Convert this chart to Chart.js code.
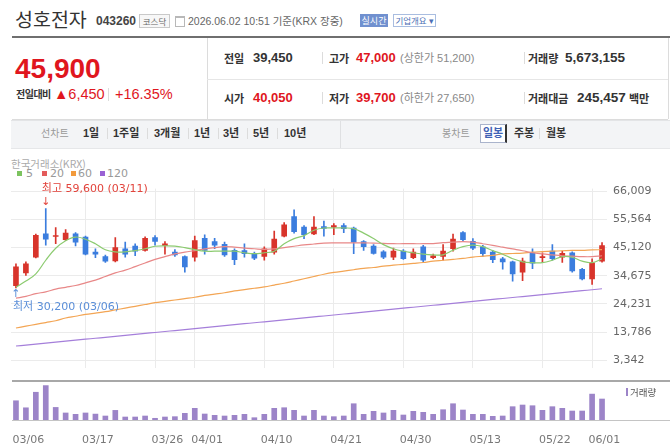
<!DOCTYPE html>
<html><head><meta charset="utf-8">
<script src="https://cdn.jsdelivr.net/npm/chart.js@4"></script>
<style>
body{margin:0;width:670px;height:447px;background:#fff;position:relative;overflow:hidden;font-family:"Liberation Sans","Noto Sans CJK KR",sans-serif;}
.a{position:absolute;white-space:nowrap;}
.k{font-family:"Noto Sans CJK KR",sans-serif;}
.lb{font:bold 11px/14px "Noto Sans CJK KR";color:#333;}
.nb{font:bold 13px/16px "Liberation Sans";color:#333;}
.red{color:#e0161e;}
.gr{font:11px/14px "Liberation Sans","Noto Sans CJK KR";color:#888;}
.sep{position:absolute;width:1px;background:#dcdcdc;}
.tb{font:bold 11px/14px "Liberation Sans","Noto Sans CJK KR";color:#333;}
.tg{font:10px/14px "Noto Sans CJK KR";color:#999;}
canvas{position:absolute;left:0;}
</style></head><body>
<!-- header -->
<div class="a k" style="left:15px;top:7px;font-size:19.5px;line-height:24px;color:#333">성호전자</div>
<div class="a" style="left:96px;top:14px;font:bold 12px/14px 'Liberation Sans';color:#444">043260</div>
<div class="a k" style="left:139px;top:14px;width:29px;height:12px;border:1px solid #c9c9c9;background:#f7f7f7;font-size:8.5px;line-height:12px;text-align:center;color:#666">코스닥</div>
<div class="a" style="left:175px;top:16px;width:8px;height:8px;border:1px solid #b8b8b8;border-top:2px solid #b8b8b8"></div>
<div class="a" style="left:188px;top:14px;font:10.5px/14px 'Liberation Sans','Noto Sans CJK KR';color:#666">2026.06.02 10:51 기준(KRX 장중)</div>
<div class="a k" style="left:360px;top:14px;width:28px;height:13px;background:#7090cf;color:#fff;font-size:9px;line-height:13px;text-align:center">실시간</div>
<div class="a k" style="left:393px;top:14px;width:41px;height:11px;border:1px solid #a9bde0;color:#4d6fb5;font-size:8.5px;line-height:11px;text-align:center">기업개요 ▾</div>
<div class="a" style="left:12px;top:36px;width:658px;height:2px;background:#6f6f6f"></div>

<!-- price summary -->
<div class="a red" style="left:15px;top:53px;font:bold 28px/32px 'Liberation Sans'">45,900</div>
<div class="a lb" style="left:16px;top:87px;font-size:10px;letter-spacing:-0.5px">전일대비</div>
<div class="a red" style="left:54px;top:86px;font:14.5px/16px 'Liberation Sans','DejaVu Sans'">▲6,450</div>
<div class="sep" style="left:108px;top:88px;height:13px"></div>
<div class="a red" style="left:115px;top:86px;font:14.5px/16px 'Liberation Sans'">+16.35%</div>
<div class="sep" style="left:207px;top:38px;height:81px"></div>
<div class="a" style="left:207px;top:79px;width:461px;height:1px;background:#e6e6e6"></div>
<div class="a" style="left:12px;top:119px;width:656px;height:1px;background:#dcdcdc"></div>
<div class="sep" style="left:668px;top:38px;height:81px"></div>

<div class="a lb" style="left:224px;top:51px">전일</div>
<div class="a nb" style="left:253px;top:50px">39,450</div>
<div class="sep" style="left:322px;top:52px;height:12px"></div>
<div class="a lb" style="left:329px;top:51px">고가</div>
<div class="a nb red" style="left:356px;top:50px">47,000</div>
<div class="a gr" style="left:400px;top:51px">(상한가 51,200)</div>
<div class="sep" style="left:524px;top:52px;height:12px"></div>
<div class="a lb" style="left:528px;top:51px">거래량</div>
<div class="a nb" style="left:565px;top:50px;font-size:13.5px">5,673,155</div>

<div class="a lb" style="left:224px;top:91px">시가</div>
<div class="a nb red" style="left:253px;top:90px">40,050</div>
<div class="sep" style="left:322px;top:92px;height:12px"></div>
<div class="a lb" style="left:329px;top:91px">저가</div>
<div class="a nb red" style="left:356px;top:90px">39,700</div>
<div class="a gr" style="left:400px;top:91px">(하한가 27,650)</div>
<div class="sep" style="left:524px;top:92px;height:12px"></div>
<div class="a lb" style="left:528px;top:91px">거래대금</div>
<div class="a nb" style="left:577px;top:90px;font-size:13.5px">245,457</div>
<div class="a lb" style="left:629px;top:91px">백만</div>

<!-- tab bar -->
<div class="a" style="left:11px;top:120px;width:659px;height:27px;background:#f3f4f6;border-top:1px solid #e3e4e6;border-bottom:1px solid #e6e7e9"></div>
<div class="sep" style="left:340px;top:121px;height:27px;background:#dfe0e2"></div>
<div class="a tg" style="left:41px;top:126px">선차트</div>
<div class="a tb" style="left:83px;top:126px">1일</div>
<div class="sep" style="left:107px;top:128px;height:11px"></div>
<div class="a tb" style="left:113px;top:126px">1주일</div>
<div class="sep" style="left:147px;top:128px;height:11px"></div>
<div class="a tb" style="left:154px;top:126px">3개월</div>
<div class="sep" style="left:188px;top:128px;height:11px"></div>
<div class="a tb" style="left:194px;top:126px">1년</div>
<div class="sep" style="left:218px;top:128px;height:11px"></div>
<div class="a tb" style="left:223px;top:126px">3년</div>
<div class="sep" style="left:247px;top:128px;height:11px"></div>
<div class="a tb" style="left:253px;top:126px">5년</div>
<div class="sep" style="left:277px;top:128px;height:11px"></div>
<div class="a tb" style="left:284px;top:126px">10년</div>
<div class="a tg" style="left:442px;top:126px">봉차트</div>
<div class="a tb" style="left:480px;top:124px;width:24px;height:17px;line-height:17px;text-align:center;color:#3f62b5;border:1px solid #aab4cc;border-right:2px solid #333;background:#fff">일봉</div>
<div class="a tb" style="left:514px;top:126px">주봉</div>
<div class="sep" style="left:539px;top:128px;height:11px"></div>
<div class="a tb" style="left:546px;top:126px">월봉</div>

<!-- chart legend -->
<div class="a k" style="left:11px;top:157px;font-size:10.5px;line-height:14px;color:#aaa">한국거래소(KRX)</div>
<div class="a" style="left:17px;top:171px;width:5px;height:5px;background:#7cc35f"></div>
<div class="a" style="left:26px;top:167px;font:11px/14px 'DejaVu Sans';color:#999">5</div>
<div class="a" style="left:42px;top:171px;width:5px;height:5px;background:#e35b5b"></div>
<div class="a" style="left:50px;top:167px;font:11px/14px 'DejaVu Sans';color:#999">20</div>
<div class="a" style="left:71px;top:171px;width:5px;height:5px;background:#f29a3c"></div>
<div class="a" style="left:78px;top:167px;font:11px/14px 'DejaVu Sans';color:#999">60</div>
<div class="a" style="left:100px;top:171px;width:5px;height:5px;background:#9a62d4"></div>
<div class="a" style="left:107px;top:167px;font:11px/14px 'DejaVu Sans';color:#999">120</div>

<canvas id="pc" width="670" height="205" style="top:176px"></canvas>
<canvas id="vc" width="670" height="66" style="top:381px"></canvas>
<div class="a" style="left:12px;top:380px;width:658px;height:2px;background:#a8a8a8"></div>
<div class="a" style="left:12px;top:420px;width:658px;height:1px;background:#c4c4c4"></div>
<div class="a" style="left:626px;top:388px;width:2px;height:8px;background:#9c84c8"></div>
<div class="a k" style="left:630px;top:385px;font-size:9.5px;line-height:14px;color:#555">거래량</div>

<script>
const dates = ['03/06','03/09','03/10','03/11','03/12','03/13','03/16','03/17','03/18','03/19','03/20','03/23','03/24','03/25','03/26','03/27','03/30','03/31','04/01','04/02','04/03','04/06','04/07','04/08','04/09','04/10','04/13','04/14','04/15','04/16','04/17','04/20','04/21','04/22','04/23','04/24','04/27','04/28','04/29','04/30','05/04','05/06','05/07','05/08','05/11','05/12','05/13','05/14','05/15','05/18','05/19','05/20','05/21','05/22','05/26','05/27','05/28','05/29','06/01','06/02'];
const opens  = [31050,35750,41550,50250,49300,48050,50250,49050,43450,41750,40200,44700,45700,44100,48800,45800,43450,41750,41550,48550,47350,46350,44100,44000,42900,41850,43450,49350,56600,52700,50150,52900,52700,53250,52400,47350,45700,43550,41550,43800,41350,45450,41350,41850,44700,50700,47450,45450,43450,41000,39850,36000,43200,41350,43800,41550,43200,37100,33500,40050];
const highs  = [39100,39850,50150,59600,52500,51800,50700,49350,44700,42350,48800,47150,46550,49150,49550,47350,44350,42100,49350,49900,48550,47150,44700,46550,43450,45450,51250,54400,59100,53250,56600,54950,54050,54050,52700,47700,46200,44000,44900,44350,44700,46000,42700,46200,50150,51050,48450,46000,44000,41550,40100,41200,44700,43200,46200,43800,43550,37400,41000,47000];
const lows   = [30200,34850,41300,46000,46550,47700,45700,42450,41350,39650,39850,41550,42100,43800,46000,42700,41850,36000,40100,42700,44700,41850,38750,41550,40650,40450,42700,49050,50500,48450,49900,49350,49900,50700,42900,44100,42700,41000,40650,40750,41000,39650,41000,40450,43800,47350,44350,41850,39550,37100,32650,32850,37300,39550,40450,39650,36000,33150,31500,39700];
const closes = [38000,39100,49700,48250,49600,50500,47150,42700,42700,40100,45100,42700,43800,48550,47450,46550,42450,38000,47700,44100,46000,42450,40650,42900,41200,44700,48250,53600,51050,49900,52700,52250,53250,52150,47150,45450,43000,41550,43800,41000,43450,40450,42100,43800,48250,48050,44900,42900,40650,39850,35400,40100,39350,41750,41000,43000,36500,33500,39450,45900];
const volumes = [5200000,3300000,7500000,9300000,3400000,1900000,1540000,1900000,1600000,1080000,2600000,810000,810000,1080000,460000,810000,900000,1800000,3160000,1620000,1270000,1080000,1270000,1540000,620000,1540000,3160000,3320000,2620000,1080000,2620000,1080000,900000,1080000,4400000,1540000,2350000,1900000,2620000,1350000,2350000,2080000,1540000,2780000,4400000,2700000,1540000,1540000,1000000,1080000,3600000,4050000,3860000,2620000,3600000,3160000,2430000,2430000,7000000,5673155];
const ma5   = [30390,32730,35410,40430,44890,47700,49040,48230,46560,44350,43550,43550,44020,44690,45620,45790,45690,45120,44350,43780,43780,43780,43780,43210,42880,43210,43780,46560,48470,49570,51580,52390,52390,52390,52150,50480,48470,46230,44690,43780,43210,42680,42440,42440,44120,45460,46020,45460,44020,42680,41000,39860,39530,39530,40430,41770,41540,40100,39530,41000];
const ma20  = [26370,27040,28050,28720,29720,30390,31060,32060,33070,34410,35750,36750,38090,39430,40770,41770,42780,43450,44020,44620,45120,45460,45290,44950,44690,44450,44620,45120,45620,46120,46460,46790,46890,46890,46890,46890,46790,46690,46560,46560,46560,46560,46630,46960,47130,47360,47130,46560,45960,45290,44620,43950,43210,42780,42440,42110,41940,41770,41770,42110];
const ma60  = [15320,15990,16660,17330,18000,19010,19680,20350,20850,21350,22020,22690,23360,24030,24700,25200,25700,26200,26710,27380,27880,28380,29050,29550,30050,30560,31230,31900,32730,33570,34410,35240,35910,36420,36920,37420,37750,38260,38590,38930,39260,39600,40100,40430,40770,41100,41610,41940,42270,42780,42940,43110,43450,43610,43780,43950,44120,44120,44280,44350];
const ma120 = [8630,8980,9350,9700,10060,10430,10780,11150,11500,11860,12230,12580,12940,13290,13650,14020,14370,14740,15100,15450,15820,16180,16530,16900,17260,17610,17980,18340,18690,19060,19420,19770,20140,20500,20850,21220,21580,21930,22300,22660,23010,23380,23740,24090,24460,24820,25170,25540,25900,26250,26620,26980,27330,27700,28060,28410,28780,29140,29490,29860];
const priceTicks = [3342,13786,24231,34675,45120,55564,66009];
const dateTicks = ['03/06','03/17','03/26','04/01','04/10','04/21','04/30','05/13','05/22','06/01'];
const gridDates = ['03/17','03/26','04/01','04/10','04/21','04/30','05/13','05/22','06/01'];

Chart.defaults.font.family = '"DejaVu Sans","Noto Sans CJK KR",sans-serif';
const UP = '#d8342b', DOWN = '#3b7dde';
const col = i => closes[i] >= opens[i] ? UP : DOWN;
const fmt = v => v.toLocaleString('en-US');

const annot = {
  id: 'annot',
  afterDatasetsDraw(chart) {
    const {ctx, scales: {x, y}} = chart;
    let hi = 0, lo = 0;
    highs.forEach((v, i) => { if (v > highs[hi]) hi = i; });
    lows.forEach((v, i) => { if (v < lows[lo]) lo = i; });
    ctx.save();
    ctx.font = '11px "DejaVu Sans","Noto Sans CJK KR"';
    const hx = x.getPixelForValue(hi), hy = y.getPixelForValue(highs[hi]);
    ctx.fillStyle = '#e2433b';
    ctx.textBaseline = 'middle';
    ctx.textAlign = 'center';
    ctx.fillText('↓', hx, hy - 6);
    ctx.textAlign = 'left';
    ctx.fillText('최고 ' + fmt(highs[hi]) + ' (' + dates[hi] + ')', hx - 4, hy - 19);
    const lx = x.getPixelForValue(lo), ly = y.getPixelForValue(lows[lo]);
    ctx.fillStyle = '#5a8ed8';
    ctx.textAlign = 'center';
    ctx.fillText('↑', lx, ly + 6);
    ctx.textAlign = 'left';
    ctx.fillText('최저 ' + fmt(lows[lo]) + ' (' + dates[lo] + ')', lx - 3, ly + 19);
    ctx.restore();
  }
};

const lineDs = (data, color) => ({type: 'line', data, borderColor: color, borderWidth: 1.2, pointRadius: 0, tension: 0.4, order: 0});

new Chart(document.getElementById('pc'), {
  type: 'bar',
  data: {
    labels: dates,
    datasets: [
      lineDs(ma5, '#8ccb70'),
      lineDs(ma20, '#e88888'),
      lineDs(ma60, '#f3a554'),
      lineDs(ma120, '#a57fda'),
      {data: opens.map((o, i) => [o, closes[i]]), backgroundColor: c => col(c.dataIndex), barThickness: 5, grouped: false, order: 1},
      {data: lows.map((l, i) => [l, highs[i]]), backgroundColor: c => col(c.dataIndex), barThickness: 1, grouped: false, order: 2}
    ]
  },
  options: {
    responsive: false, animation: false, events: [],
    layout: {padding: {left: 11, top: 5, right: 0, bottom: 1}},
    plugins: {legend: {display: false}, tooltip: {enabled: false}},
    scales: {
      x: {
        offset: true,
        grid: {offset: false, drawTicks: false, color: c => gridDates.includes(dates[c.tick ? c.tick.value : c.index]) ? '#ebebeb' : 'rgba(0,0,0,0)'},
        ticks: {display: false, autoSkip: false},
        border: {display: false},
        afterFit: s => { s.height = 0; }
      },
      y: {
        position: 'right', min: 330, max: 67000,
        afterBuildTicks: s => { s.ticks = priceTicks.map(v => ({value: v})); },
        ticks: {padding: 6, color: '#666', font: {size: 11}, callback: v => fmt(v)},
        grid: {color: '#ebebeb', drawTicks: false},
        border: {display: false},
        afterFit: s => { s.width = 63; }
      }
    }
  },
  plugins: [annot]
});

new Chart(document.getElementById('vc'), {
  type: 'bar',
  data: {labels: dates, datasets: [{data: volumes, backgroundColor: '#9c84c8', barThickness: 5}]},
  options: {
    responsive: false, animation: false, events: [],
    layout: {padding: {left: 11, right: 63, top: 2, bottom: 0}},
    plugins: {legend: {display: false}, tooltip: {enabled: false}},
    scales: {
      x: {
        offset: true,
        grid: {display: false},
        border: {display: false},
        ticks: {autoSkip: false, maxRotation: 0, align: 'start', labelOffset: -3.5, padding: 6, color: '#777', font: {size: 11},
          callback: (v, i) => dateTicks.includes(dates[i]) ? dates[i] : ''},
        afterFit: s => { s.height = 27; }
      },
      y: {display: false, min: 0, max: 10000000}
    }
  }
});
</script>
</body></html>
